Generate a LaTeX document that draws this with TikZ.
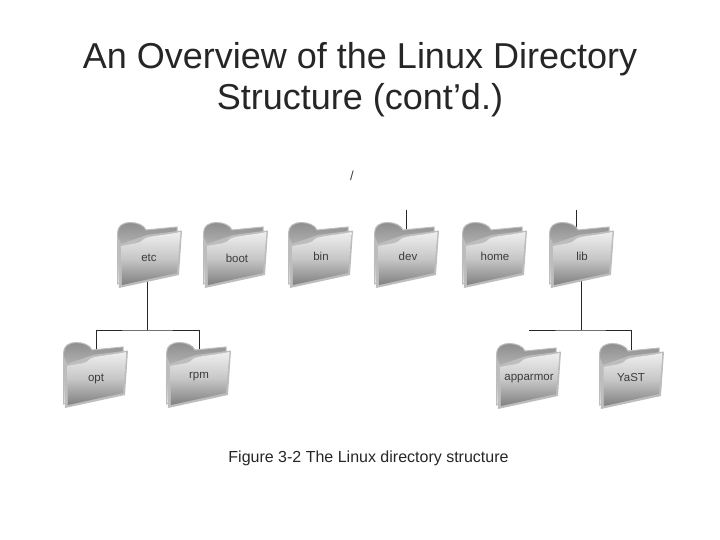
\documentclass[tikz,border=0pt]{standalone}
\usepackage{fontspec}
\setmainfont{Liberation Sans}
\usetikzlibrary{backgrounds}
\definecolor{folderEdge}{HTML}{BDBDBD}
\definecolor{folderDark}{HTML}{808080}
\definecolor{folderTab}{HTML}{8E8E8E}
\definecolor{folderLight}{HTML}{EFEFEF}
\definecolor{textGray}{HTML}{3C3C3C}
\tikzset{
  foldertext/.style={font=\fontsize{11.5}{13}\selectfont,text=textGray,inner sep=1pt,yshift=-1pt},
  connector/.style={line width=.9pt,color=black!85},
  folder/.pic={
    % back with the tab
    \draw[folderEdge,line width=1pt,top color=folderTab,bottom color=folderLight]
      (.5,62) -- (.5,11) .. controls (.5,4) and (6,.5) .. (13,.5)
      .. controls (20,.5) and (27,3) .. (29,8) -- (60,5) -- (60,30) -- cycle;
    % light edge behind the front panel
    \fill[folderEdge] (.5,14) -- (2,66) -- (62,53) -- (65,8.5) -- (30,13) -- (4,22) -- cycle;
    % front panel
    \shade[top color=folderLight,bottom color=folderDark,middle color=black!22]
      (4.5,24) .. controls (18,21) and (23,22) .. (27,17)
      .. controls (30,14) and (50,13) .. (63.5,10)
      -- (60,51) -- (5,63) -- cycle;
  }
}
\begin{document}
\begin{tikzpicture}[x=1pt,y=-1pt]
  \useasboundingbox (0,0) rectangle (720,540);
  \node[font=\fontsize{36}{41}\selectfont,align=center,text=black!85] (title) at (360,80)
    {An Overview of the Linux Directory\\Structure (cont’d.)};
  \node[foldertext,font=\fontsize{13}{15}\selectfont] (root) at (352,175) {/};
  \foreach \nm/\fx/\fy/\lx/\ly/\txt in {etc/117/222/149/257/etc,boot/203/222/237/257/boot,
      bin/288/222/321/255/bin,dev/374/222/408/255/dev,home/462/222/495/255/home,
      lib/549/222/582/255/lib,opt/63/342/96/378/opt,rpm/166/342/199/376/rpm,
      apparmor/496/343/529/378/apparmor,yast/599/343/631/377/YaST}{
    \pic at (\fx,\fy) {folder};
    \node[foldertext] (\nm) at (\lx,\ly) {\txt};
  }
  \node[font=\fontsize{16}{19}\selectfont,text=black!85] (caption) at (368.5,458)
    {Figure 3-2 The Linux directory structure};
  \coordinate (etcbus) at (147,330);
  \coordinate (libbus) at (581,330);
  \coordinate (busend) at (529,330);
  \coordinate (devtop) at (406,210);
  \coordinate (libtop) at (576,210);
  \begin{pgfonlayer}{background}
    \draw[connector] (etcbus) -- (etcbus |- etc);
    \draw[connector] (opt) |- (etcbus) -| (rpm);
    \draw[connector] (libbus) -- (libbus |- lib);
    \draw[connector] (busend) -- (libbus) -| (yast);
    \draw[connector] (devtop) -- (devtop |- dev);
    \draw[connector] (libtop) -- (libtop |- lib);
  \end{pgfonlayer}
\end{tikzpicture}
\end{document}
